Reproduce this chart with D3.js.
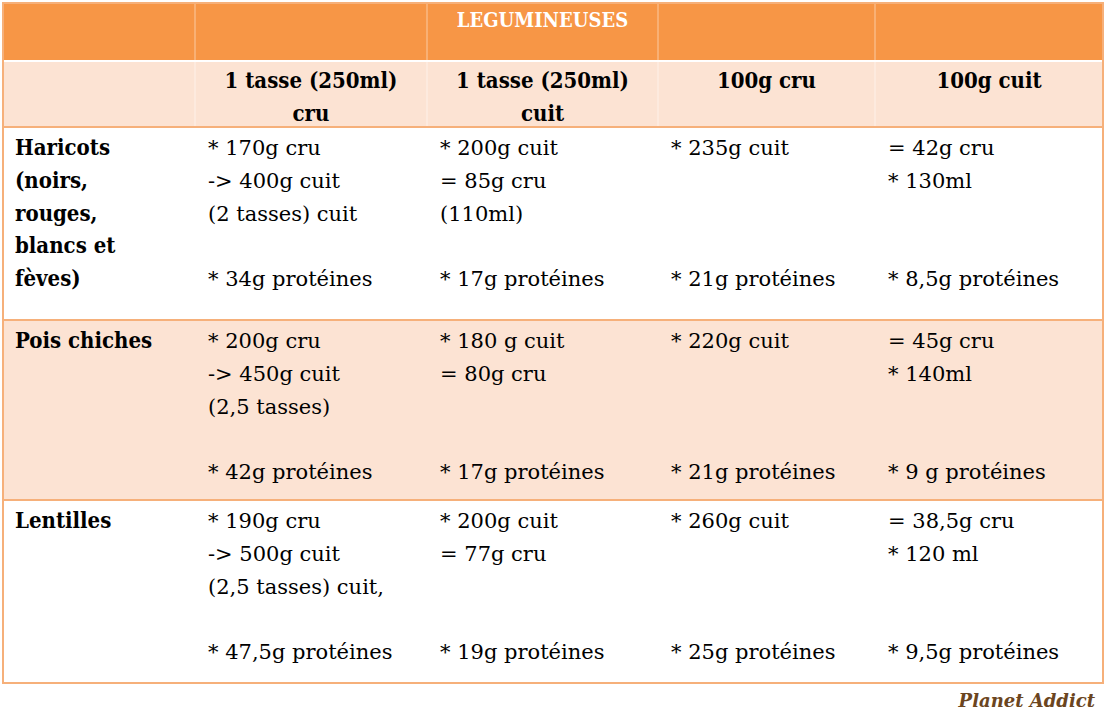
<!DOCTYPE html>
<html><head><meta charset="utf-8">
<script src="https://cdn.jsdelivr.net/npm/d3@7"></script>
<style>body{margin:0;background:#fff}</style>
</head><body>
<svg id="c" width="1105" height="716"></svg>
<script>
// données du tableau
const title = 'LEGUMINEUSES'
const columns = ['', '1 tasse (250ml)|cru', '1 tasse (250ml)|cuit', '100g cru', '100g cuit']
const rowNames = ['Haricots|(noirs,|rouges,|blancs et|fèves)', 'Pois chiches', 'Lentilles']
const haricots = [
  ['* 170g cru', '-> 400g cuit', '(2 tasses) cuit', '', '* 34g protéines'],
  ['* 200g cuit', '= 85g cru', '(110ml)', '', '* 17g protéines'],
  ['* 235g cuit', '', '', '', '* 21g protéines'],
  ['= 42g cru', '* 130ml', '', '', '* 8,5g protéines']
]
const poisChiches = [
  ['* 200g cru', '-> 450g cuit', '(2,5 tasses)', '', '* 42g protéines'],
  ['* 180 g cuit', '= 80g cru', '', '', '* 17g protéines'],
  ['* 220g cuit', '', '', '', '* 21g protéines'],
  ['= 45g cru', '* 140ml', '', '', '* 9 g protéines']
]
const lentilles = [
  ['* 190g cru', '-> 500g  cuit', '(2,5 tasses) cuit,', '', '* 47,5g protéines'],
  ['* 200g cuit', '= 77g cru', '', '', '* 19g protéines'],
  ['* 260g cuit', '', '', '', '* 25g protéines'],
  ['= 38,5g cru', '* 120 ml', '', '', '* 9,5g protéines']
]
const rowCells = [haricots, poisChiches, lentilles]

const svg = d3.select('#c')
const font = 'DejaVu Serif, serif'
const boldFont = 'DejaVu Serif Condensed, DejaVu Serif, serif'
const orange = '#f79646', pale = '#fce3d3', line = '#f6b07a'

// échelles
const colEdges = [3, 195, 427, 658, 875, 1103]
const x = d3.scaleOrdinal().domain(d3.range(5)).range(colEdges.slice(0, 5))
const colW = i => colEdges[i + 1] - colEdges[i]
const rowEdges = [127, 320, 500, 683]
const y = d3.scaleOrdinal().domain(d3.range(3)).range(rowEdges.slice(0, 3))
const lineY = d3.scaleLinear().domain([0, 1]).range([0, 32.8])

// fonds
svg.append('rect').attr('x', 3).attr('y', 3).attr('width', 1100).attr('height', 58).attr('fill', orange)
svg.append('rect').attr('x', 3).attr('y', 61).attr('width', 1100).attr('height', 66).attr('fill', pale)
svg.append('rect').attr('x', 3).attr('y', 320).attr('width', 1100).attr('height', 180).attr('fill', pale)
svg.append('line').attr('x1', 3).attr('x2', 1103).attr('y1', 61).attr('y2', 61).attr('stroke', '#fff').attr('stroke-width', 2)
svg.selectAll('.vsep').data(d3.range(1, 5)).enter().append('line')
  .attr('x1', d => x(d)).attr('x2', d => x(d)).attr('y1', 3).attr('y2', 127)
  .attr('stroke', '#fff').attr('stroke-opacity', 0.5).attr('stroke-width', 1)
svg.selectAll('.hsep').data(rowEdges.slice(0, 3)).enter().append('line')
  .attr('x1', 3).attr('x2', 1103).attr('y1', d => d).attr('y2', d => d)
  .attr('stroke', line).attr('stroke-width', 2)
svg.append('rect').attr('x', 3).attr('y', 3).attr('width', 1100).attr('height', 680)
  .attr('fill', 'none').attr('stroke', line).attr('stroke-width', 2)

// titre
svg.append('text').attr('x', x(2) + colW(2) / 2).attr('y', 27).attr('text-anchor', 'middle')
  .attr('font-family', boldFont).attr('font-weight', 'bold').attr('font-size', 20).attr('fill', '#fff')
  .text(title)

// en-têtes
columns.forEach((c, i) => {
  c.split('|').filter(s => s).forEach((s, k) => {
    svg.append('text').attr('x', x(i) + colW(i) / 2).attr('y', 88 + lineY(k)).attr('text-anchor', 'middle')
      .attr('font-family', boldFont).attr('font-weight', 'bold').attr('font-size', 22).attr('fill', '#000').text(s)
  })
})

// lignes
rowNames.forEach((r, ri) => {
  const top = y(ri)
  r.split('|').forEach((s, k) => {
    svg.append('text').attr('x', 15).attr('y', top + 28 + lineY(k))
      .attr('font-family', boldFont).attr('font-weight', 'bold').attr('font-size', 22).text(s)
  })
  rowCells[ri].forEach((cell, ci) => {
    cell.forEach((s, k) => {
      if (!s) return
      svg.append('text').attr('x', x(ci + 1) + 13).attr('y', top + 28 + lineY(k))
        .attr('font-family', font).attr('font-size', 21).text(s)
    })
  })
})

svg.append('text').attr('x', 1095).attr('y', 707).attr('text-anchor', 'end')
  .attr('font-family', 'DejaVu Serif, serif').attr('font-style', 'italic').attr('font-weight', 'bold')
  .attr('font-size', 18).attr('fill', '#6b4520').text('Planet Addict')
</script>
</body></html>
